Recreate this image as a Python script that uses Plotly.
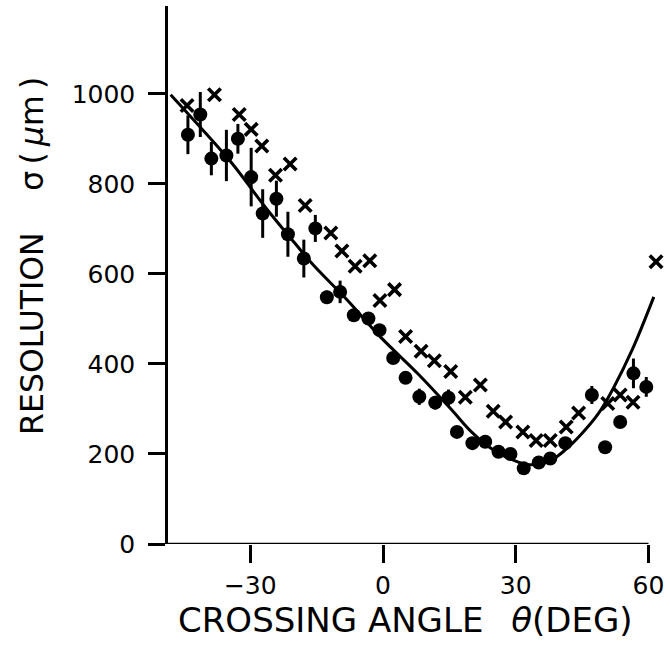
import plotly.graph_objects as go

# Filled circles (with vertical error bars)
circ_theta = [-44.1, -41.3, -38.8, -35.4, -32.8, -29.8, -27.2, -24.1, -21.5, -17.9,
              -15.3, -12.7, -9.7, -6.6, -3.3, -0.8, 2.3, 5.1, 8.2, 11.8,
              14.8, 16.7, 20.2, 23.1, 26.1, 28.8, 31.8, 35.2, 37.8, 41.2,
              47.2, 50.2, 53.6, 56.6, 59.5]
circ_sigma = [909, 954, 856, 863, 900, 815, 734, 767, 688, 634,
              701, 548, 560, 508, 501, 475, 413, 369, 327, 314,
              325, 249, 224, 227, 205, 200, 168, 181, 190, 224,
              331, 215, 271, 379, 349]
circ_err = [43, 50, 37, 57, 33, 65, 54, 40, 50, 42,
            30, 15, 25, 8, 10, 10, 12, 10, 18, 15,
            18, 12, 8, 0, 0, 0, 0, 0, 0, 0,
            20, 0, 0, 33, 22]

# Crosses
x_theta = [-44.3, -38.1, -32.5, -29.8, -27.4, -24.3, -21.0, -17.6, -11.8, -9.3,
           -6.3, -3.0, -0.7, 2.6, 5.1, 8.6, 11.6, 15.3, 18.6, 22.0,
           24.9, 27.7, 31.6, 34.6, 37.8, 41.4, 44.2, 50.8, 53.6, 56.5, 61.7]
x_sigma = [974, 998, 954, 921, 884, 819, 844, 752, 691, 651,
           617, 629, 541, 565, 461, 428, 407, 383, 326, 353,
           295, 271, 249, 230, 230, 260, 291, 312, 331, 315, 627]

# Solid curve
curve_theta = [-48.0, -41.7, -34.1, -26.6, -20.0, -15.7, -8.1, -0.6, 8.0, 15.6,
               20.1, 25.4, 30.6, 33.0, 37.4, 41.2, 45.0, 48.7, 52.0, 56.3, 61.2]
curve_sigma = [998, 930, 845, 748, 669, 619, 542, 460, 377, 297,
               248, 206, 182, 176, 183, 209, 246, 290, 345, 431, 549]

x_ticks = [-30, 0, 30, 60]
x_tick_text = ["\u221230", "0", "30", "60"]
y_ticks = [0, 200, 400, 600, 800, 1000]

FONT = "DejaVu Sans"

fig = go.Figure()
fig.add_trace(go.Scatter(
    x=curve_theta, y=curve_sigma, mode="lines",
    line=dict(color="black", width=3, shape="spline"),
    hoverinfo="skip", showlegend=False))
fig.add_trace(go.Scatter(
    x=circ_theta, y=circ_sigma, mode="markers",
    marker=dict(symbol="circle", size=14, color="black"),
    error_y=dict(type="data", array=circ_err, visible=True,
                 thickness=3, width=0, color="black"),
    showlegend=False, cliponaxis=False))
fig.add_trace(go.Scatter(
    x=x_theta, y=x_sigma, mode="markers",
    marker=dict(symbol="x-thin-open", size=12.5, color="black",
                line=dict(color="black", width=3.6)),
    showlegend=False, cliponaxis=False))

x_lo, x_hi = -48.6, 62.6
fig.add_shape(type="line", xref="x", yref="y", x0=x_lo, x1=60, y0=0, y1=0,
              line=dict(color="black", width=2.5), layer="above")

# axis titles as annotations (positions in paper units)
fig.add_annotation(text="CROSSING ANGLE\u2002 <i>θ</i>(DEG)", xref="paper", yref="paper",
                   x=0.4837, y=-0.1413, xanchor="center", yanchor="middle",
                   showarrow=False, font=dict(size=34, family=FONT, color="black"))
fig.add_annotation(text="RESOLUTION\u2003 σ\u2009(\u2009<i>μ</i>m\u2009)",
                   xref="paper", yref="paper",
                   x=-0.277, y=0.535, xanchor="center", yanchor="middle",
                   textangle=-90, showarrow=False,
                   font=dict(size=31.5, family=FONT, color="black"))

fig.update_layout(
    width=670, height=652,
    margin=dict(l=168, r=10, t=6, b=108),
    paper_bgcolor="white", plot_bgcolor="white",
    font=dict(family=FONT, color="black"),
    xaxis=dict(
        range=[x_lo, x_hi], tickvals=x_ticks, ticktext=x_tick_text,
        ticks="outside", ticklen=18, tickwidth=2.5, tickcolor="black",
        showline=False, showgrid=False, zeroline=False,
        tickfont=dict(size=25, family=FONT), ticklabelstandoff=1,
    ),
    yaxis=dict(
        range=[0, 1195], tickvals=y_ticks,
        ticks="outside", ticklen=17, tickwidth=2.5, tickcolor="black",
        showline=True, linecolor="black", linewidth=2.5,
        showgrid=False, zeroline=False,
        tickfont=dict(size=25, family=FONT), ticklabelstandoff=8,
    ),
)

fig.write_html("out.html", config={"displayModeBar": False},
               post_script="document.body.style.margin='0';")
